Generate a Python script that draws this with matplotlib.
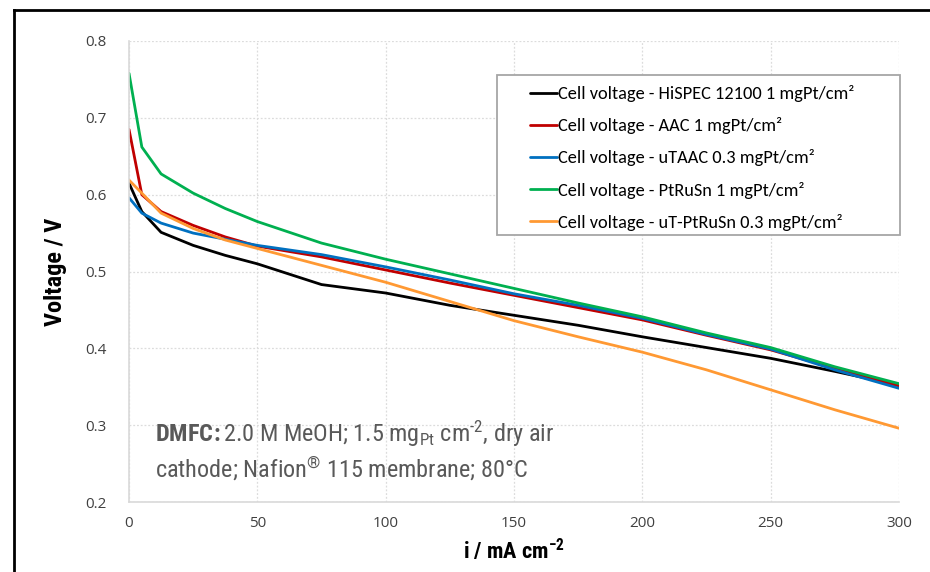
import matplotlib
matplotlib.use("Agg")
import matplotlib.pyplot as plt
from matplotlib import font_manager
from matplotlib.lines import Line2D
from matplotlib.patches import Rectangle

# ---- data ----
current = [0, 5, 12.5, 25, 37.5, 50, 75, 100, 125, 150, 175, 200, 225, 250, 275, 300]
v_hispec = [0.615, 0.578, 0.551, 0.534, 0.521, 0.510, 0.483, 0.472, 0.456, 0.443, 0.430, 0.415, 0.401, 0.387, 0.370, 0.352]
v_aac = [0.685, 0.600, 0.578, 0.560, 0.545, 0.533, 0.519, 0.502, 0.485, 0.469, 0.453, 0.437, 0.417, 0.398, 0.374, 0.351]
v_utaac = [0.596, 0.576, 0.563, 0.550, 0.542, 0.534, 0.522, 0.506, 0.489, 0.471, 0.456, 0.439, 0.418, 0.399, 0.372, 0.348]
v_ptrusn = [0.758, 0.662, 0.627, 0.602, 0.582, 0.565, 0.537, 0.516, 0.497, 0.478, 0.459, 0.441, 0.420, 0.401, 0.376, 0.354]
v_utptrusn = [0.619, 0.602, 0.576, 0.556, 0.541, 0.530, 0.508, 0.486, 0.461, 0.436, 0.415, 0.395, 0.372, 0.346, 0.320, 0.296]

labels = [
    "Cell voltage - HiSPEC 12100 1 mgPt/cm²",
    "Cell voltage - AAC 1 mgPt/cm²",
    "Cell voltage - uTAAC 0.3 mgPt/cm²",
    "Cell voltage - PtRuSn 1 mgPt/cm²",
    "Cell voltage - uT-PtRuSn 0.3 mgPt/cm²",
]
series = [v_hispec, v_aac, v_utaac, v_ptrusn, v_utptrusn]
colors = ["#000000", "#C00000", "#0070C0", "#00B050", "#FF9933"]
xticks = [0, 50, 100, 150, 200, 250, 300]
yticks = [0.2, 0.3, 0.4, 0.5, 0.6, 0.7, 0.8]

available = {f.name for f in font_manager.fontManager.ttflist}
def pick(prefs, default="DejaVu Sans"):
    for p in prefs:
        if p in available:
            return p
    return default

narrow = pick(["Liberation Sans Narrow", "Arial Narrow", "Roboto Condensed", "PT Sans Narrow",
               "Archivo Narrow", "Open Sans Condensed", "Barlow Semi Condensed"], "Liberation Sans")
legend_font = pick(["Carlito", "Calibri", "Lato"])
tick_font = pick(["Open Sans", "Noto Sans"])

plt.rcParams["mathtext.fontset"] = "custom"
plt.rcParams["mathtext.rm"] = narrow
plt.rcParams["mathtext.bf"] = narrow + ":bold"
plt.rcParams["mathtext.it"] = narrow + ":italic"

fig = plt.figure(figsize=(9.3, 5.72), dpi=100)
ax = fig.add_axes([129/930, 1-502/572, 770/930, 461/572])

for vals, lab, col in zip(series, labels, colors):
    ax.plot(current, vals, color=col, lw=2.0, label=lab, solid_capstyle="round")

ax.set_xlim(0, 300)
ax.set_ylim(0.2, 0.8)
ax.set_xticks(xticks)
ax.set_yticks(yticks)
ax.set_xticklabels([str(t) for t in xticks], fontfamily=tick_font, fontsize=11, color="#404040")
ax.set_yticklabels([f"{t:.1f}" for t in yticks], fontfamily=tick_font, fontsize=11, color="#404040")
ax.tick_params(axis="x", length=0, pad=10)
ax.tick_params(axis="y", length=0, pad=16)
ax.grid(True, color="#dcdcdc", linestyle=(0, (1.5, 1.5)), linewidth=0.9)
ax.set_axisbelow(True)
for s in ["top", "right"]:
    ax.spines[s].set_visible(False)
for s in ["left", "bottom"]:
    ax.spines[s].set_color("#d9d9d9")
    ax.spines[s].set_linewidth(1.2)

ax.set_ylabel("Voltage / V", fontfamily=narrow, fontweight="bold", fontsize=17.5, labelpad=13)
ax.set_xlabel(r"i / mA cm$^{\bf{-2}}$", fontfamily=narrow, fontweight="bold", fontsize=16, labelpad=5)

# legend box
box = Rectangle(((497-129)/770, (502-235)/461), (900-497)/770, 160/461, transform=ax.transAxes,
                facecolor="white", edgecolor="#a6a6a6", lw=1.3, zorder=4, clip_on=False)
ax.add_patch(box)
leg = ax.legend(loc="upper left", bbox_to_anchor=((530-129)/770, (502-85)/461), borderaxespad=0,
                prop={"family": legend_font, "size": 13.2}, frameon=False,
                handlelength=1.45, handletextpad=0.1, labelspacing=0.83, borderpad=0)
leg.set_zorder(5)

ax.text(0.034, 0.130, r"$\bf{DMFC\!:}$2.0 M MeOH; 1.5 mg$_{\rm Pt}$ cm$^{\text{-2}}$, dry air",
        transform=ax.transAxes, fontfamily=narrow, fontsize=17.5, color="#595959", ha="left", va="baseline")
ax.text(0.034, 0.052, r"cathode; Nafion$^{\circledR}$ 115 membrane; 80°C",
        transform=ax.transAxes, fontfamily=narrow, fontsize=17.5, color="#595959", ha="left", va="baseline")

fig.add_artist(Line2D([14/930, 14/930], [0, 1-10/572], color="black", lw=2, transform=fig.transFigure))
fig.add_artist(Line2D([14/930, 1], [1-10/572, 1-10/572], color="black", lw=2, transform=fig.transFigure))

fig.savefig("out.png", dpi=100)
